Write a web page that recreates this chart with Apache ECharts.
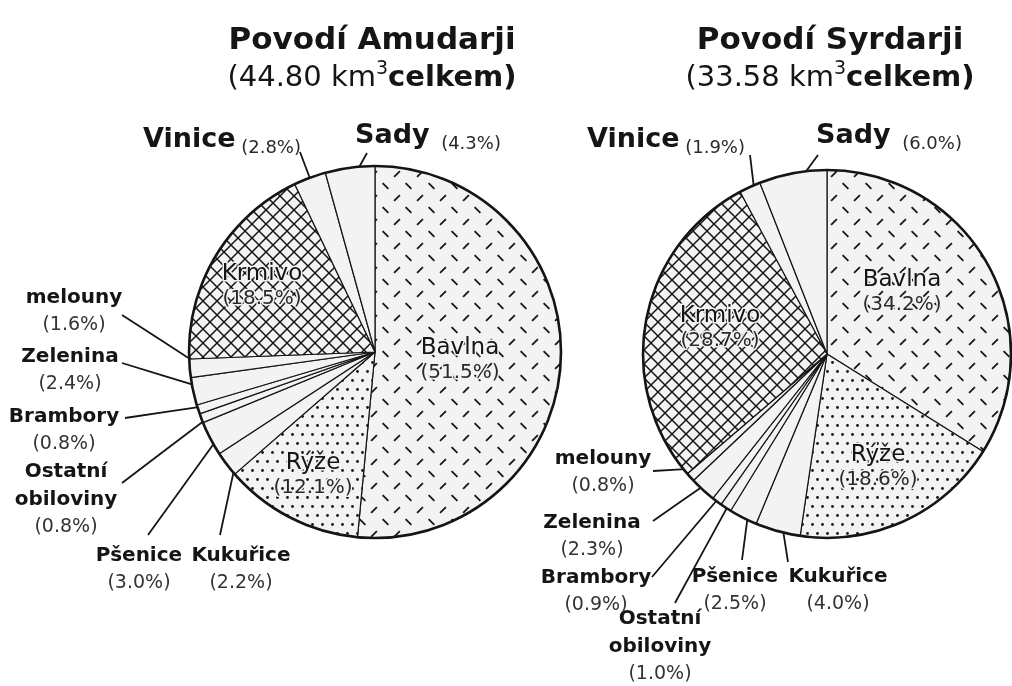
<!DOCTYPE html>
<html>
<head>
<meta charset="utf-8">
<script src="https://cdn.jsdelivr.net/npm/echarts@6/dist/echarts.min.js"></script>
<style>
  html, body { margin: 0; padding: 0; background: #fff; }
  #main { width: 1012px; height: 686px; }
</style>
</head>
<body>
<div id="main"></div>
<script>
// plodiny, v pořadí po směru hodin od vrcholu
const categories = ['Bavlna', 'Rýže', 'Kukuřice', 'Pšenice', 'Ostatní obiloviny', 'Brambory', 'Zelenina', 'melouny', 'Krmivo', 'Vinice', 'Sady'];
const amuValues = [51.5, 12.1, 2.2, 3.0, 0.8, 0.8, 2.4, 1.6, 18.5, 2.8, 4.3];
const syrValues = [34.2, 18.6, 4.0, 2.5, 1.0, 0.9, 2.3, 0.8, 28.7, 1.9, 6.0];
const basinNames = ['Povodí Amudarji', 'Povodí Syrdarji'];
const basinTotals = ['44.80', '33.58'];

const insideNames = ['Bavlna', 'Rýže', 'Krmivo'];
const topNames = ['Vinice', 'Sady'];

// pozice popisků [x, y, konec čáry x, konec čáry y]
const posAmu = {
  'Bavlna': [460, 360], 'Krmivo': [262, 286], 'Rýže': [313, 475],
  'Vinice': [222, 140, 300, 152], 'Sady': [428, 136, 367, 153],
  'melouny': [74, 311, 122, 315], 'Zelenina': [70, 370, 122, 363],
  'Brambory': [64, 430, 125, 418], 'Ostatní obiloviny': [66, 499, 122, 483],
  'Pšenice': [139, 569, 148, 535], 'Kukuřice': [241, 569, 220, 535]
};
const posSyr = {
  'Bavlna': [902, 292], 'Krmivo': [720, 328], 'Rýže': [878, 467],
  'Vinice': [666, 140, 750, 155], 'Sady': [889, 136, 818, 155],
  'melouny': [603, 472, 653, 471], 'Zelenina': [592, 536, 653, 521],
  'Brambory': [596, 591, 652, 577], 'Ostatní obiloviny': [660, 646, 675, 603],
  'Pšenice': [735, 590, 742, 560], 'Kukuřice': [838, 590, 788, 562]
};

const BG = '#f3f3f3';
const INK = '#151515';
const SANS = 'DejaVu Sans';

function makePattern(kind) {
  const c = document.createElement('canvas');
  let w = 23, h = 24;
  if (kind === 'dots') { w = 10; h = 18; }
  if (kind === 'cross') { w = 14; h = 14; }
  c.width = w; c.height = h;
  const ctx = c.getContext('2d');
  ctx.fillStyle = BG;
  ctx.fillRect(0, 0, w, h);
  ctx.strokeStyle = INK;
  ctx.fillStyle = INK;
  if (kind === 'dash') {
    // řada „/“ a posunutá řada „\“
    ctx.lineWidth = 1.8;
    const d = 2.9;
    const seg = function (x, y, s) {
      ctx.beginPath();
      ctx.moveTo(x - d, y - d * s);
      ctx.lineTo(x + d, y + d * s);
      ctx.stroke();
    };
    seg(6, 6, -1);
    seg(17.5, 18, 1);
  } else if (kind === 'dots') {
    ctx.beginPath(); ctx.arc(2.5, 2.5, 1.4, 0, Math.PI * 2); ctx.fill();
    ctx.beginPath(); ctx.arc(7.5, 11.5, 1.4, 0, Math.PI * 2); ctx.fill();
  } else if (kind === 'cross') {
    ctx.lineWidth = 1.5;
    ctx.beginPath();
    ctx.moveTo(-1, -1); ctx.lineTo(w + 1, h + 1);
    ctx.moveTo(w + 1, -1); ctx.lineTo(-1, h + 1);
    ctx.stroke();
  }
  return { image: c, repeat: 'repeat' };
}

const patterns = {
  'Bavlna': makePattern('dash'),
  'Rýže': makePattern('dots'),
  'Krmivo': makePattern('cross')
};

function labelText(name, value) {
  const pct = '(' + value.toFixed(1) + '%)';
  if (insideNames.indexOf(name) >= 0) {
    return '{i|' + name + '}\n{ip|' + pct + '}';
  }
  if (topNames.indexOf(name) >= 0) {
    return '{t|' + name + '}{tp|' + (name === 'Sady' ? '  ' : ' ') + pct + '}';
  }
  return name.split(' ').map(function (w) { return '{s|' + w + '}'; }).join('\n') + '\n{sp|' + pct + '}';
}

function makeLayout(pos) {
  return function (params) {
    const p = pos[categories[params.dataIndex]];
    const out = { x: p[0], y: p[1], align: 'center', verticalAlign: 'middle' };
    const pts = params.labelLinePoints;
    if (pts && p.length > 2) {
      const dx = pts[1][0] - pts[0][0];
      const dy = pts[1][1] - pts[0][1];
      const len = Math.hypot(dx, dy) || 1;
      const inner = [pts[0][0] - dx / len * 13, pts[0][1] - dy / len * 13];
      out.labelLinePoints = [inner, [(inner[0] + p[2]) / 2, (inner[1] + p[3]) / 2], [p[2], p[3]]];
    }
    return out;
  };
}

const richStyles = {
  i: { fontFamily: SANS, fontSize: 23, color: INK, lineHeight: 26, textBorderColor: BG, textBorderWidth: 3 },
  ip: { fontFamily: SANS, fontSize: 20, color: '#2a2a2a', lineHeight: 24, textBorderColor: BG, textBorderWidth: 3 },
  t: { fontFamily: SANS, fontWeight: 'bold', fontSize: 27, color: INK, lineHeight: 34 },
  tp: { fontFamily: SANS, fontSize: 18, color: '#2a2a2a', verticalAlign: 'bottom', lineHeight: 28 },
  s: { fontFamily: SANS, fontWeight: 'bold', fontSize: 20, color: INK, lineHeight: 28 },
  sp: { fontFamily: SANS, fontSize: 19, color: '#333', lineHeight: 26 }
};

function buildSeries(values, center, radius, pos) {
  return {
    type: 'pie',
    center: center,
    radius: radius,
    startAngle: 90,
    clockwise: true,
    avoidLabelOverlap: false,
    animation: false,
    silent: true,
    itemStyle: { borderColor: INK, borderWidth: 1.2 },
    label: {
      show: true,
      position: 'outside',
      formatter: function (p) { return labelText(p.name, p.value); },
      rich: richStyles
    },
    labelLine: { show: true, length: 10, length2: 10, lineStyle: { color: INK, width: 1.8 } },
    labelLayout: makeLayout(pos),
    data: categories.map(function (name, i) {
      const inside = insideNames.indexOf(name) >= 0;
      const item = { name: name, value: values[i], itemStyle: { color: patterns[name] || BG } };
      if (inside) {
        item.label = { position: 'inside' };
        item.labelLine = { show: false };
      }
      return item;
    })
  };
}

// silnější obrys celého koláče (jeden výsek = součet hodnot)
function buildRim(values, center, radius) {
  const total = values.reduce(function (a, b) { return a + b; }, 0);
  return {
    type: 'pie',
    center: center,
    radius: radius,
    z: 3,
    silent: true,
    animation: false,
    label: { show: false },
    labelLine: { show: false },
    itemStyle: { color: 'rgba(0,0,0,0)', borderColor: INK, borderWidth: 2.6 },
    data: [{ name: 'celkem', value: total }]
  };
}

function titleText(i, x) {
  return {
    type: 'text',
    x: x,
    y: 22,
    style: {
      text: '{a|' + basinNames[i] + '}\n{b|(' + basinTotals[i] + ' km}{c|3}{d|celkem)}',
      align: 'center',
      verticalAlign: 'top',
      rich: {
        a: { fontFamily: SANS, fontWeight: 'bold', fontSize: 31, fill: INK, lineHeight: 38 },
        b: { fontFamily: SANS, fontSize: 29, fill: INK, lineHeight: 36 },
        c: { fontFamily: SANS, fontSize: 19, fill: INK, verticalAlign: 'top', lineHeight: 30 },
        d: { fontFamily: SANS, fontWeight: 'bold', fontSize: 29, fill: INK, lineHeight: 36 }
      }
    }
  };
}

const chart = echarts.init(document.getElementById('main'));
chart.setOption({
  backgroundColor: '#fff',
  animation: false,
  graphic: [titleText(0, 372), titleText(1, 830)],
  series: [
    buildSeries(amuValues, [375, 352], 186, posAmu),
    buildSeries(syrValues, [827, 354], 184, posSyr),
    buildRim(amuValues, [375, 352], 186),
    buildRim(syrValues, [827, 354], 184)
  ]
});
window.addEventListener('resize', function () {
  chart.resize();
});
</script>
</body>
</html>
